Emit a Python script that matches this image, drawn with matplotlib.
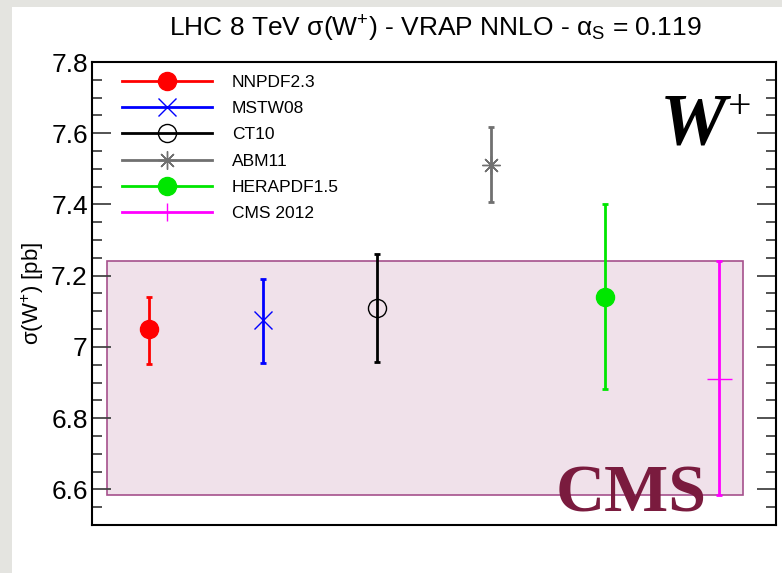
import matplotlib
matplotlib.use("Agg")
import matplotlib.pyplot as plt
from matplotlib.patches import Rectangle
from matplotlib.lines import Line2D
from matplotlib.ticker import MultipleLocator, FixedLocator, FixedFormatter

plt.rcParams['font.family'] = ['Liberation Sans', 'DejaVu Sans']
plt.rcParams['mathtext.fontset'] = 'custom'
plt.rcParams['mathtext.rm'] = 'Liberation Sans'
plt.rcParams['mathtext.it'] = 'Liberation Sans'

# ---- data ----
pdf_sets = ["NNPDF2.3", "MSTW08", "CT10", "ABM11", "HERAPDF1.5", "CMS 2012"]
xsec = [7.049, 7.075, 7.108, 7.511, 7.140, 6.911]
err_up = [0.092, 0.117, 0.152, 0.106, 0.262, 0.330]
err_dn = [0.096, 0.120, 0.150, 0.105, 0.258, 0.328]
colors = ["#ff0000", "#0000ff", "#000000", "#707070", "#00e600", "#ff00ff"]
markers = ["o", "x", "o", (8, 2, 0), "o", "_"]
filled = [True, True, False, True, True, True]
ytick_vals = [6.6, 6.8, 7.0, 7.2, 7.4, 7.6, 7.8]
ytick_labels = ["6.6", "6.8", "7", "7.2", "7.4", "7.6", "7.8"]

fig = plt.figure(figsize=(7.82, 5.73), dpi=100)
fig.patch.set_facecolor("#e4e4e0")
fig.add_artist(Rectangle((12/782, 0), 1 - 12/782, 1 - 7/573, transform=fig.transFigure,
                         facecolor="white", edgecolor="none", zorder=0))

ax = fig.add_axes([92/782, 1 - 525/573, (776-92)/782, (525-62)/573])
ax.set_xlim(0.5, 6.5)
ax.set_ylim(6.5, 7.8)

# CMS measurement band
cms_i = len(pdf_sets) - 1
ax.add_patch(Rectangle((0.635, xsec[cms_i] - err_dn[cms_i]), 6.21 - 0.635,
                       err_up[cms_i] + err_dn[cms_i], facecolor="#f0e1ea",
                       edgecolor="#a5508c", linewidth=1.2, zorder=1))

handles = []
for i, name in enumerate(pdf_sets):
    x = i + 1
    c = colors[i]
    ms = 13
    mew = 1.0
    if markers[i] == "_":
        ms = 18
    ax.errorbar([x], [xsec[i]], yerr=[[err_dn[i]], [err_up[i]]], fmt="none",
                ecolor=c, elinewidth=2, capsize=2, capthick=2, zorder=3)
    ax.plot([x], [xsec[i]], linestyle="none", marker=markers[i], markersize=ms,
            markerfacecolor=c if filled[i] else "none", markeredgecolor=c,
            markeredgewidth=mew, zorder=4)
    lm = "|" if markers[i] == "_" else markers[i]
    handles.append(Line2D([0], [0], color=c, linewidth=2, marker=lm, markersize=13,
                          markerfacecolor=c if filled[i] else "none",
                          markeredgecolor=c, markeredgewidth=1.0, label=name))

leg = ax.legend(handles=handles, loc="upper left", bbox_to_anchor=(0.028, 0.995),
                frameon=False, fontsize=12.5, handlelength=5.2, handletextpad=1.15,
                labelspacing=0.64, borderaxespad=0.2)

# axes styling
for s in ax.spines.values():
    s.set_linewidth(1.5)
ax.set_xticks([])
ax.yaxis.set_major_locator(FixedLocator(ytick_vals))
ax.yaxis.set_major_formatter(FixedFormatter(ytick_labels))
ax.yaxis.set_minor_locator(MultipleLocator(0.05))
ax.tick_params(axis="y", which="both", direction="in", left=True, right=True,
               color="#444444")
ax.tick_params(axis="y", which="major", length=14, width=1.3, labelsize=19, pad=3)
ax.tick_params(axis="y", which="minor", length=7, width=1.3)

ax.set_ylabel(r"$\sigma$(W$^{+}$) [pb]", fontsize=16, labelpad=4)

fig.text(435/782, 1 - 29/573, r"LHC 8 TeV $\sigma$(W$^{+}$) - VRAP NNLO - $\alpha_{\mathrm{S}}$ = 0.119",
         ha="center", va="center", fontsize=19)

ax.text(0.928, 0.86, "W", transform=ax.transAxes, ha="right", va="center",
        fontsize=54, fontweight="bold", fontstyle="italic", family="Liberation Serif")
ax.text(0.929, 0.902, "+", transform=ax.transAxes, ha="left", va="center",
        fontsize=30, family="Liberation Serif")
ax.text(0.788, 0.030, "CMS", transform=ax.transAxes, ha="center", va="baseline",
        fontsize=49, fontweight="bold", family="Liberation Serif", color="#7a1b3e",
        zorder=5)

fig.savefig("out.png", dpi=100, facecolor=fig.get_facecolor())
